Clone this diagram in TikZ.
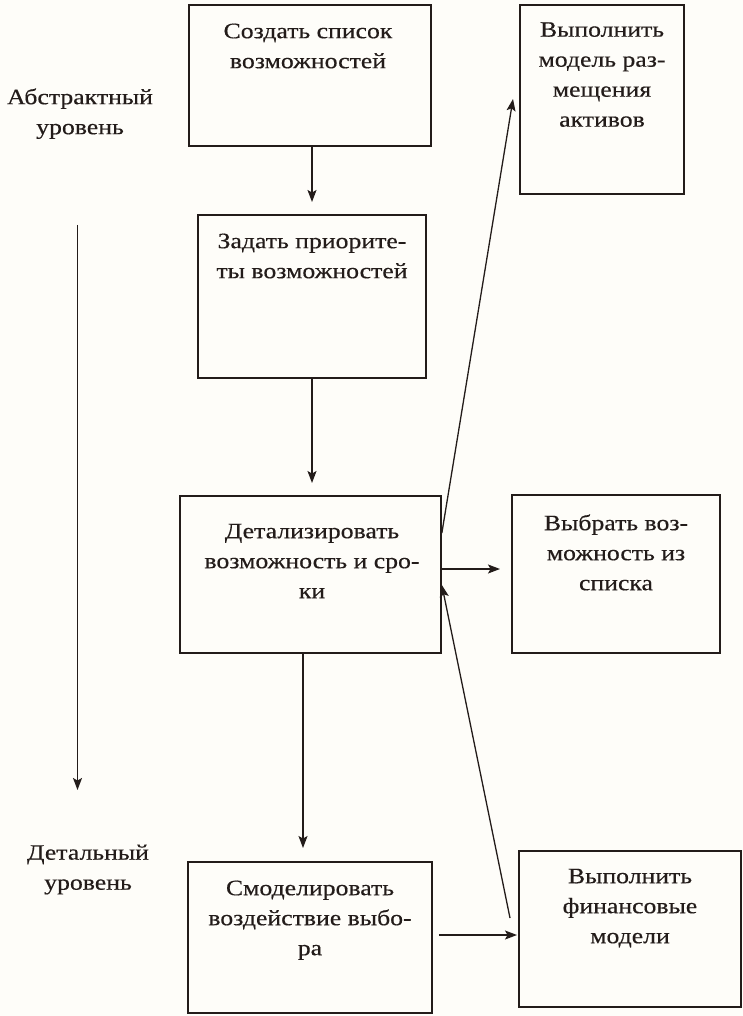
\documentclass[tikz,border=0pt]{standalone}
\usepackage{fontspec}
\setmainfont[FakeBold=0.4,FakeStretch=1.17]{Liberation Serif}
\usetikzlibrary{arrows.meta,calc}
\definecolor{ink}{HTML}{231C1A}
\definecolor{paper}{HTML}{FEFDF9}
\begin{document}
\begin{tikzpicture}[x=1pt,y=-1pt,
  box/.style={draw=ink, line width=1.7pt, inner sep=0pt},
  txt/.style={anchor=north, yshift=21pt, align=center, inner sep=0pt, text=ink,
              font=\fontsize{22}{30}\selectfont},
  arr/.style={draw=ink, line width=1.3pt, -{Stealth[length=12pt,width=9pt,inset=2.5pt]}}]
\useasboundingbox[fill=paper] (0,0) rectangle (743,1016);

% boxes
\node[box, minimum width=242pt, minimum height=141pt] (b1) at (310,75.5) {};
\node[box, minimum width=164pt, minimum height=189pt] (b2) at (602,99.5) {};
\node[box, minimum width=228pt, minimum height=163pt] (b3) at (312,296.5) {};
\node[box, minimum width=261pt, minimum height=157pt] (b4) at (310.5,574.5) {};
\node[box, minimum width=208pt, minimum height=158pt] (b5) at (616,574) {};
\node[box, minimum width=244pt, minimum height=151pt] (b6) at (310,937.5) {};
\node[box, minimum width=222pt, minimum height=156pt] (b7) at (630,929) {};

% texts
\node[txt] (t1) at (308,38) {\strut Создать список\\возможностей};
\node[txt] (t2) at (602,36.5) {\strut Выполнить\\модель раз-\\мещения\\активов};
\node[txt] (t3) at (312,248) {\strut Задать приорите-\\ты возможностей};
\node[txt] (t4) at (312,538) {\strut Детализировать\\возможность и сро-\\ки};
\node[txt] (t5) at (616,530) {\strut Выбрать воз-\\можность из\\списка};
\node[txt] (t6) at (310,895) {\strut Смоделировать\\воздействие выбо-\\ра};
\node[txt] (t7) at (630,883) {\strut Выполнить\\финансовые\\модели};
\node[txt] (l1) at (80,104) {\strut Абстрактный\\уровень};
\node[txt] (l2) at (88,859.5) {\strut Детальный\\уровень};

% connector ends
\coordinate (p1) at (312,202);
\coordinate (p2) at (312,483);
\coordinate (p3) at (303,848);
\coordinate (p4) at (500,569);
\coordinate (s5) at (441,533);
\coordinate (p5) at (513,99);
\coordinate (s6) at (510,918);
\coordinate (p6) at (442,585);
\coordinate (p7) at (517,935);
\coordinate (la) at (77.5,225);
\coordinate (lb) at (77.5,790);

\draw[arr] (b1.south -| p1) -- (p1);
\draw[arr] (b3.south -| p2) -- (p2);
\draw[arr] (b4.south -| p3) -- (p3);
\draw[arr] (b4.east |- p4) -- (p4);
\draw[arr] (b4.east |- s5) -- (p5);
\draw[arr] (s6) -- (b4.east |- p6);
\draw[arr, shorten <=6pt] (b6.east |- p7) -- (p7);
\draw[arr] (la) -- (lb);
\end{tikzpicture}
\end{document}
